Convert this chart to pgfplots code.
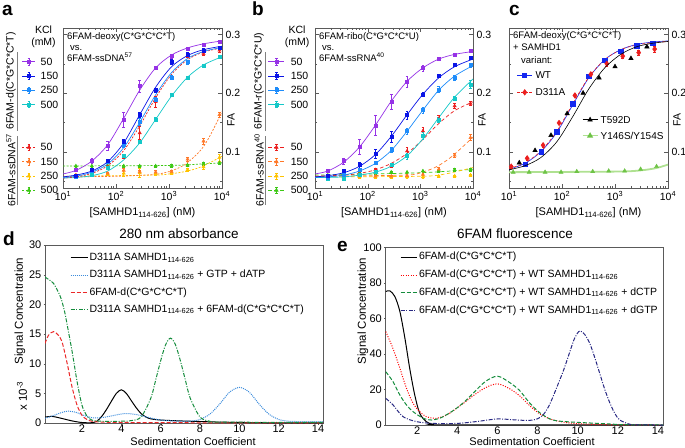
\documentclass[border=0pt]{standalone}
\usepackage{fontspec}
\setmainfont{Liberation Sans}
\usepackage{pgfplots}
\pgfplotsset{compat=1.18}
\definecolor{cPur}{RGB}{150,50,230}
\definecolor{cBlu}{RGB}{10,20,230}
\definecolor{cLbl}{RGB}{30,140,250}
\definecolor{cCya}{RGB}{20,200,200}
\definecolor{cRed}{RGB}{235,30,30}
\definecolor{cOra}{RGB}{255,120,40}
\definecolor{cYel}{RGB}{255,195,0}
\definecolor{cGrn}{RGB}{60,200,20}
\definecolor{cWT}{RGB}{20,40,240}
\definecolor{cY146}{RGB}{110,195,70}
\definecolor{cY146L}{RGB}{175,225,145}
\definecolor{dBlue}{RGB}{60,140,220}
\definecolor{dRed}{RGB}{235,40,40}
\definecolor{dGreen}{RGB}{20,140,60}
\definecolor{eNavy}{RGB}{40,40,130}
\definecolor{frame}{RGB}{90,90,90}
\pgfplotsset{
 errpts/.style={only marks, error bars/y dir=both, error bars/y explicit,
  error bars/error bar style={line width=0.5pt},
  error bars/error mark options={rotate=90, mark size=1.3pt, line width=0.5pt}},
 fitline/.style={smooth, no marks, line width=0.7pt},
 dline/.style={smooth, no marks, line width=1pt}
}
\begin{document}
\begin{tikzpicture}
%================ panel a
\begin{axis}[scale only axis, width=159pt, height=160pt, anchor=north west, at={(63pt,-28pt)},
  xmode=log, xmin=10, xmax=10000, ymin=0.038, ymax=0.311,
  xtick={10,100,1000,10000},
  xticklabels={10\textsuperscript{1},10\textsuperscript{2},10\textsuperscript{3},10\textsuperscript{4}},
  minor xtick={20,30,40,50,60,70,80,90,200,300,400,500,600,700,800,900,2000,3000,4000,5000,6000,7000,8000,9000},
  ytick={0.1,0.2,0.3}, yticklabels={0.1,0.2,0.3}, minor ytick={0.05,0.15,0.25},
  ytick pos=both, yticklabel pos=right,
  tick align=inside, major tick length=4pt, minor tick length=2pt,
  axis line style={frame}, tick style={frame},
  font=\fontsize{10.5}{12}\selectfont,
  xlabel={{[}SAMHD1\textsubscript{114-626}{]} (nM)},
  xlabel style={font=\fontsize{11}{12}\selectfont},
  legend cell align=left,
  legend style={at={(axis description cs:-0.258,0.821)}, anchor=north west, draw=none, fill=none,
  inner sep=0pt, outer sep=0pt, row sep=4.3pt, column sep=5pt,
  nodes={inner sep=0pt, text height=8.5pt, text depth=1.5pt}},
 legend image code/.code={\draw[#1,solid,mark=none,line width=0.5pt] (6.5pt,-3.2pt) -- (6.5pt,3.2pt) (5.2pt,-3.2pt) -- (7.8pt,-3.2pt) (5.2pt,3.2pt) -- (7.8pt,3.2pt);
  \draw[mark repeat=2,mark phase=2,#1] plot coordinates {(0pt,0pt) (6.5pt,0pt) (13pt,0pt)};}]
\addlegendimage{cPur, line width=0.7pt, mark=square*, mark size=1.5pt}\addlegendentry{50}
\addlegendimage{cBlu, line width=0.7pt, mark=square*, mark size=1.5pt}\addlegendentry{150}
\addlegendimage{cLbl, line width=0.7pt, mark=square*, mark size=1.5pt}\addlegendentry{250}
\addlegendimage{cCya, line width=0.7pt, mark=square*, mark size=1.5pt}\addlegendentry{500}
\addlegendimage{empty legend}\addlegendentry{\mbox{}}
\addlegendimage{empty legend}\addlegendentry{\mbox{}}
\addlegendimage{cRed, line width=0.7pt, dash pattern=on 2pt off 1.5pt, mark=triangle*, mark size=1.9pt, mark options={solid}}\addlegendentry{50}
\addlegendimage{cOra, line width=0.7pt, dash pattern=on 2pt off 1.5pt, mark=triangle*, mark size=1.9pt, mark options={solid}}\addlegendentry{150}
\addlegendimage{cYel, line width=0.7pt, dash pattern=on 2pt off 1.5pt, mark=triangle*, mark size=1.9pt, mark options={solid}}\addlegendentry{250}
\addlegendimage{cGrn, line width=0.7pt, dash pattern=on 2pt off 1.5pt, mark=triangle*, mark size=1.9pt, mark options={solid}}\addlegendentry{500}
\addplot[fitline, cGrn, dash pattern=on 2pt off 1.5pt] coordinates {(10,0.0756)(1000,0.0765)(4000,0.079)(10000,0.081)};
\addplot[fitline, cYel, dash pattern=on 2pt off 1.5pt] coordinates {(10,0.058)(500,0.060)(1000,0.062)(2000,0.066)(4000,0.074)(10000,0.092)};
\addplot[fitline, cOra, dash pattern=on 2pt off 1.5pt] coordinates {(10,0.057)(100,0.058)(500,0.061)(1000,0.066)(2000,0.078)(4000,0.103)(6000,0.128)(10000,0.168)};
\addplot[fitline, cCya] coordinates {(10,0.055)(17.5,0.056)(35,0.059)(70,0.067)(140,0.086)(280,0.115)(560,0.155)(1120,0.195)(2240,0.227)(4480,0.248)(10000,0.262)};
\addplot[fitline, cRed, dash pattern=on 2pt off 1.5pt] coordinates {(10,0.055)(17.5,0.057)(35,0.063)(70,0.076)(140,0.102)(280,0.144)(560,0.192)(1120,0.232)(2240,0.257)(4480,0.270)(10000,0.277)};
\addplot[fitline, cLbl] coordinates {(10,0.056)(17.5,0.058)(35,0.065)(70,0.079)(140,0.107)(280,0.150)(560,0.197)(1120,0.235)(2240,0.259)(4480,0.271)(10000,0.278)};
\addplot[fitline, cBlu] coordinates {(10,0.057)(17.5,0.060)(35,0.067)(70,0.083)(140,0.115)(280,0.163)(560,0.210)(1120,0.245)(2240,0.264)(4480,0.274)(10000,0.280)};
\addplot[fitline, cPur] coordinates {(10,0.062)(17.5,0.068)(35,0.084)(70,0.112)(140,0.157)(280,0.205)(560,0.243)(1120,0.265)(2240,0.277)(4480,0.284)(10000,0.289)};
\addplot[cGrn, mark=triangle*, mark size=1.9pt, errpts] table[x index=0,y index=1,y error index=2]{
17.5 0.0756 0.002
35 0.0756 0.002
70 0.0756 0.002
140 0.0756 0.002
280 0.0756 0.002
560 0.0756 0.002
1120 0.0760 0.002
2240 0.0770 0.002
4480 0.0795 0.002
8960 0.0810 0.002
};
\addplot[cYel, mark=triangle*, mark size=1.9pt, errpts] table[x index=0,y index=1,y error index=2]{
17.5 0.060 0.002
35 0.061 0.002
70 0.061 0.002
140 0.063 0.005
280 0.064 0.008
560 0.062 0.002
1120 0.063 0.002
2240 0.069 0.002
4480 0.074 0.004
8960 0.090 0.006
};
\addplot[cOra, mark=triangle*, mark size=1.9pt, errpts] table[x index=0,y index=1,y error index=2]{
17.5 0.060 0.002
35 0.060 0.002
70 0.063 0.002
140 0.068 0.004
280 0.066 0.003
560 0.065 0.003
1120 0.066 0.002
2240 0.087 0.003
4480 0.118 0.005
8960 0.163 0.004
};
\addplot[cRed, mark=triangle*, mark size=1.9pt, errpts] table[x index=0,y index=1,y error index=2]{
17.5 0.057 0.002
35 0.061 0.002
70 0.074 0.003
140 0.091 0.003
280 0.132 0.011
560 0.185 0.010
1120 0.253 0.004
2240 0.264 0.003
4480 0.267 0.003
8960 0.273 0.003
};
\addplot[cCya, mark=square*, mark size=1.5pt, errpts] table[x index=0,y index=1,y error index=2]{
17.5 0.057 0.002
35 0.061 0.002
70 0.073 0.002
140 0.093 0.003
280 0.117 0.003
560 0.155 0.003
1120 0.197 0.003
2240 0.226 0.003
4480 0.246 0.002
8960 0.262 0.002
};
\addplot[cLbl, mark=square*, mark size=1.5pt, errpts] table[x index=0,y index=1,y error index=2]{
17.5 0.058 0.002
35 0.067 0.002
70 0.083 0.003
140 0.112 0.004
280 0.151 0.006
560 0.189 0.004
1120 0.227 0.004
2240 0.253 0.003
4480 0.272 0.003
8960 0.278 0.002
};
\addplot[cBlu, mark=square*, mark size=1.5pt, errpts] table[x index=0,y index=1,y error index=2]{
17.5 0.059 0.002
35 0.069 0.002
70 0.084 0.003
140 0.117 0.005
280 0.163 0.005
560 0.205 0.004
1120 0.253 0.004
2240 0.266 0.003
4480 0.273 0.003
8960 0.278 0.002
};
\addplot[cPur, mark=square*, mark size=1.5pt, errpts] table[x index=0,y index=1,y error index=2]{
17.5 0.069 0.003
35 0.085 0.004
70 0.110 0.007
140 0.155 0.013
280 0.212 0.010
560 0.243 0.003
1120 0.263 0.004
2240 0.276 0.002
4480 0.282 0.002
8960 0.288 0.002
};
\end{axis}
%================ panel b
\begin{axis}[scale only axis, width=158pt, height=160pt, anchor=north west, at={(315pt,-28pt)},
  xmode=log, xmin=10, xmax=10000, ymin=0.038, ymax=0.311,
  xtick={10,100,1000,10000},
  xticklabels={10\textsuperscript{1},10\textsuperscript{2},10\textsuperscript{3},10\textsuperscript{4}},
  minor xtick={20,30,40,50,60,70,80,90,200,300,400,500,600,700,800,900,2000,3000,4000,5000,6000,7000,8000,9000},
  ytick={0.1,0.2,0.3}, yticklabels={0.1,0.2,0.3}, minor ytick={0.05,0.15,0.25},
  ytick pos=both, yticklabel pos=right,
  tick align=inside, major tick length=4pt, minor tick length=2pt,
  axis line style={frame}, tick style={frame},
  font=\fontsize{10.5}{12}\selectfont,
  xlabel={{[}SAMHD1\textsubscript{114-626}{]} (nM)},
  xlabel style={font=\fontsize{11}{12}\selectfont},
  legend cell align=left,
  legend style={at={(axis description cs:-0.297,0.821)}, anchor=north west, draw=none, fill=none,
  inner sep=0pt, outer sep=0pt, row sep=4.3pt, column sep=6pt,
  nodes={inner sep=0pt, text height=8.5pt, text depth=1.5pt}},
 legend image code/.code={\draw[#1,solid,mark=none,line width=0.5pt] (8pt,-3.2pt) -- (8pt,3.2pt) (6.7pt,-3.2pt) -- (9.3pt,-3.2pt) (6.7pt,3.2pt) -- (9.3pt,3.2pt);
  \draw[mark repeat=2,mark phase=2,#1] plot coordinates {(0pt,0pt) (8pt,0pt) (16pt,0pt)};}]
\addlegendimage{cPur, line width=0.7pt, mark=square*, mark size=1.5pt}\addlegendentry{50}
\addlegendimage{cBlu, line width=0.7pt, mark=square*, mark size=1.5pt}\addlegendentry{150}
\addlegendimage{cLbl, line width=0.7pt, mark=square*, mark size=1.5pt}\addlegendentry{250}
\addlegendimage{cCya, line width=0.7pt, mark=square*, mark size=1.5pt}\addlegendentry{500}
\addlegendimage{empty legend}\addlegendentry{\mbox{}}
\addlegendimage{empty legend}\addlegendentry{\mbox{}}
\addlegendimage{cRed, line width=0.7pt, dash pattern=on 3.5pt off 2.5pt, mark=triangle*, mark size=1.9pt, mark options={solid}}\addlegendentry{50}
\addlegendimage{cOra, line width=0.7pt, dash pattern=on 3.5pt off 2.5pt, mark=triangle*, mark size=1.9pt, mark options={solid}}\addlegendentry{150}
\addlegendimage{cYel, line width=0.7pt, dash pattern=on 3.5pt off 2.5pt, mark=triangle*, mark size=1.9pt, mark options={solid}}\addlegendentry{250}
\addlegendimage{cGrn, line width=0.7pt, dash pattern=on 3.5pt off 2.5pt, mark=triangle*, mark size=1.9pt, mark options={solid}}\addlegendentry{500}
\addplot[fitline, cGrn, dash pattern=on 3.5pt off 2.5pt] coordinates {(10,0.060)(1000,0.064)(10000,0.070)};
\addplot[fitline, cYel, dash pattern=on 3.5pt off 2.5pt] coordinates {(10,0.057)(1000,0.058)(3000,0.062)(10000,0.073)};
\addplot[fitline, cOra, dash pattern=on 3.5pt off 2.5pt] coordinates {(10,0.058)(500,0.060)(1000,0.064)(2000,0.074)(4000,0.092)(10000,0.125)};
\addplot[fitline, cRed, dash pattern=on 3.5pt off 2.5pt] coordinates {(10,0.058)(35,0.060)(70,0.063)(140,0.069)(280,0.080)(560,0.097)(1120,0.121)(2240,0.148)(4480,0.170)(10000,0.185)};
\addplot[fitline, cCya] coordinates {(10,0.056)(17.5,0.056)(35,0.057)(70,0.060)(140,0.065)(280,0.075)(560,0.093)(1120,0.122)(2240,0.158)(4480,0.193)(10000,0.224)};
\addplot[fitline, cLbl] coordinates {(10,0.056)(17.5,0.057)(35,0.060)(70,0.067)(140,0.080)(280,0.102)(560,0.135)(1120,0.171)(2240,0.205)(4480,0.229)(10000,0.247)};
\addplot[fitline, cBlu] coordinates {(10,0.057)(17.5,0.059)(35,0.064)(70,0.075)(140,0.095)(280,0.126)(560,0.163)(1120,0.198)(2240,0.226)(4480,0.245)(10000,0.258)};
\addplot[fitline, cPur] coordinates {(10,0.062)(17.5,0.067)(35,0.082)(70,0.108)(140,0.145)(280,0.186)(560,0.220)(1120,0.243)(2240,0.258)(4480,0.266)(10000,0.271)};
\addplot[cGrn, mark=triangle*, mark size=1.9pt, errpts] table[x index=0,y index=1,y error index=2]{
17.5 0.060 0.002
35 0.062 0.002
70 0.063 0.002
140 0.064 0.002
280 0.065 0.002
560 0.065 0.002
1120 0.067 0.002
2240 0.067 0.002
4480 0.069 0.002
8960 0.069 0.002
};
\addplot[cYel, mark=triangle*, mark size=1.9pt, errpts] table[x index=0,y index=1,y error index=2]{
17.5 0.057 0.002
35 0.057 0.002
70 0.057 0.002
140 0.057 0.002
280 0.057 0.002
560 0.057 0.002
1120 0.057 0.002
2240 0.058 0.002
4480 0.0585 0.002
8960 0.060 0.002
};
\addplot[cOra, mark=triangle*, mark size=1.9pt, errpts] table[x index=0,y index=1,y error index=2]{
17.5 0.057 0.002
35 0.057 0.002
70 0.058 0.002
140 0.058 0.002
280 0.058 0.002
560 0.059 0.002
1120 0.061 0.002
2240 0.070 0.003
4480 0.0938 0.004
8960 0.1239 0.005
};
\addplot[cRed, mark=triangle*, mark size=1.9pt, errpts] table[x index=0,y index=1,y error index=2]{
17.5 0.0585 0.002
35 0.0614 0.002
70 0.067 0.002
140 0.069 0.002
280 0.0767 0.004
560 0.101 0.006
1120 0.1352 0.007
2240 0.1563 0.006
4480 0.178 0.004
8960 0.1824 0.003
};
\addplot[cCya, mark=square*, mark size=1.5pt, errpts] table[x index=0,y index=1,y error index=2]{
17.5 0.0545 0.002
35 0.0545 0.003
70 0.0614 0.002
140 0.066 0.003
280 0.078 0.003
560 0.0926 0.005
1120 0.1267 0.006
2240 0.155 0.004
4480 0.191 0.004
8960 0.2148 0.007
};
\addplot[cLbl, mark=square*, mark size=1.5pt, errpts] table[x index=0,y index=1,y error index=2]{
17.5 0.0557 0.002
35 0.0614 0.002
70 0.0688 0.003
140 0.0813 0.003
280 0.103 0.004
560 0.135 0.005
1120 0.171 0.005
2240 0.206 0.005
4480 0.226 0.004
8960 0.2477 0.004
};
\addplot[cBlu, mark=square*, mark size=1.5pt, errpts] table[x index=0,y index=1,y error index=2]{
17.5 0.0585 0.002
35 0.067 0.003
70 0.0773 0.005
140 0.0966 0.008
280 0.125 0.009
560 0.1625 0.007
1120 0.1977 0.003
2240 0.229 0.002
4480 0.249 0.002
8960 0.260 0.003
};
\addplot[cPur, mark=square*, mark size=1.5pt, errpts] table[x index=0,y index=1,y error index=2]{
17.5 0.067 0.002
35 0.084 0.005
70 0.1085 0.013
140 0.145 0.017
280 0.185 0.013
560 0.219 0.009
1120 0.243 0.005
2240 0.2585 0.002
4480 0.266 0.002
8960 0.2727 0.002
};
\end{axis}
%================ panel c (WT, D311A)
\begin{axis}[scale only axis, width=159pt, height=160pt, anchor=north west, at={(509pt,-28pt)},
  xmode=log, xmin=10, xmax=10000, ymin=0.038, ymax=0.311,
  xtick={10,100,1000,10000},
  xticklabels={10\textsuperscript{1},10\textsuperscript{2},10\textsuperscript{3},10\textsuperscript{4}},
  minor xtick={20,30,40,50,60,70,80,90,200,300,400,500,600,700,800,900,2000,3000,4000,5000,6000,7000,8000,9000},
  ytick={0.1,0.2,0.3}, yticklabels={0.1,0.2,0.3}, minor ytick={0.05,0.15,0.25},
  ytick pos=both, yticklabel pos=right,
  tick align=inside, major tick length=4pt, minor tick length=2pt,
  axis line style={frame}, tick style={frame},
  font=\fontsize{10.5}{12}\selectfont,
  xlabel={{[}SAMHD1\textsubscript{114-626}{]} (nM)},
  xlabel style={font=\fontsize{11}{12}\selectfont},
  legend cell align=left,
  legend style={at={(axis description cs:0.050,0.737)}, anchor=north west, draw=none, fill=none,
  inner sep=0pt, outer sep=0pt, row sep=8pt, column sep=3pt, font=\fontsize{10}{12}\selectfont,
  nodes={inner sep=0pt, text height=8pt, text depth=1.5pt}},
 legend image code/.code={\draw[mark repeat=2,mark phase=2,#1] plot coordinates {(0pt,0pt) (7.5pt,0pt) (15pt,0pt)};}]
\addlegendimage{cWT, line width=0.6pt, mark=square*, mark size=2pt}\addlegendentry{WT}
\addlegendimage{cRed, line width=0.6pt, dash pattern=on 2.5pt off 1.5pt, mark=diamond*, mark size=2.7pt, mark options={solid}}\addlegendentry{D311A}
\addplot[fitline, cWT, line width=0.6pt] coordinates {(10,0.070)(20,0.080)(40,0.100)(80,0.133)(160,0.180)(320,0.226)(640,0.257)(1280,0.274)(2560,0.283)(5120,0.287)(10000,0.289)};
\addplot[fitline, cRed, line width=0.6pt, dash pattern=on 3pt off 2pt] coordinates {(10,0.071)(20,0.081)(40,0.101)(80,0.135)(160,0.182)(320,0.227)(640,0.257)(1280,0.274)(2560,0.282)(5120,0.286)(10000,0.288)};
\addplot[cWT, mark=square*, mark size=2.2pt, only marks] table[x index=0,y index=1]{
20 0.079
40 0.100
80 0.134
160 0.182
320 0.2285
640 0.256
1280 0.271
2560 0.281
5120 0.285
};
\addplot[cRed, mark=diamond*, mark size=2.8pt, errpts] table[x index=0,y index=1,y error index=2]{
11 0.0746 0.003
22 0.0887 0.003
44 0.111 0.003
88 0.149 0.003
175 0.196 0.004
350 0.232 0.004
700 0.250 0.004
1400 0.263 0.004
2800 0.269 0.004
5600 0.275 0.005
};
\end{axis}
%================ panel c (T592D, Y146S/Y154S)
\begin{axis}[scale only axis, width=159pt, height=160pt, anchor=north west, at={(509pt,-28pt)},
  xmode=log, xmin=10, xmax=10000, ymin=0.038, ymax=0.311, hide axis,
  font=\fontsize{10.5}{12}\selectfont,
  legend cell align=left,
  legend style={at={(axis description cs:0.459,0.456)}, anchor=north west, draw=none, fill=none,
  inner sep=0pt, outer sep=0pt, row sep=6.5pt, column sep=2.5pt, font=\fontsize{10}{12}\selectfont,
  nodes={inner sep=0pt, text height=8pt, text depth=1.5pt}},
 legend image code/.code={\draw[mark repeat=2,mark phase=2,#1] plot coordinates {(0pt,0pt) (7.5pt,0pt) (15pt,0pt)};}]
\addlegendimage{black, line width=0.6pt, mark=triangle*, mark size=2.5pt}\addlegendentry{T592D}
\addlegendimage{cY146L, line width=1.2pt, mark=triangle*, mark size=2.4pt, mark options={cY146}}\addlegendentry{Y146S/Y154S}
\addplot[fitline, cY146L, line width=1.8pt] coordinates {(10,0.065)(1000,0.066)(3000,0.068)(6000,0.072)(10000,0.078)};
\addplot[fitline, black, line width=0.6pt] coordinates {(10,0.069)(20,0.076)(40,0.090)(80,0.117)(160,0.160)(320,0.207)(640,0.243)(1280,0.266)(2560,0.279)(5120,0.285)(10000,0.288)};
\addplot[cY146, mark=triangle*, mark size=2.4pt, only marks] table[x index=0,y index=1]{
12 0.065
24 0.065
48 0.065
96 0.065
190 0.066
380 0.066
760 0.067
1520 0.067
3040 0.070
6080 0.0746
};
\addplot[black, mark=triangle*, mark size=2.6pt, only marks] table[x index=0,y index=1]{
15.6 0.081
31 0.102
62 0.128
125 0.165
250 0.200
500 0.226
1000 0.245
2000 0.259
4000 0.279
};
\end{axis}
%================ panel d
\begin{axis}[scale only axis, width=278pt, height=178pt, anchor=north west, at={(45pt,-245pt)},
  xmin=0.12, xmax=14.25, ymin=0, ymax=30, xtick={2,4,...,14}, ytick={0,5,...,30},
  tick pos=left, tick align=outside, major tick length=1.5pt,
  axis line style={frame}, tick style={frame},
  xticklabel style={inner sep=0.5pt}, yticklabel style={inner sep=2pt},
  font=\fontsize{11}{12}\selectfont, /pgf/number format/assume math mode=true,
  legend cell align=left,
  legend style={at={(axis description cs:0.09,0.961)}, anchor=north west, draw=none, fill=none,
  inner sep=0pt, outer sep=0pt, row sep=5.3pt, column sep=1.5pt,
  nodes={inner sep=0pt, text height=8.5pt, text depth=3.5pt}, font=\fontsize{10.5}{12}\selectfont},
  legend image code/.code={\draw[#1] (0pt,0pt) -- (17pt,0pt);}]
\addplot[dline, black] coordinates {(0.12,1.0)(0.5,1.1)(1.0,0.75)(1.5,0.35)(2.0,0.08)(2.5,0.05)(2.75,0.3)(3.0,1.1)(3.25,2.3)(3.5,3.7)(3.75,5.0)(4.0,5.6)(4.25,5.0)(4.5,3.8)(4.75,2.6)(5.0,1.6)(5.25,1.0)(5.5,0.7)(6.0,0.5)(7.0,0.35)(8.0,0.25)(9.0,0.15)(10.0,0.1)(11,0.05)(12,0.02)(14.25,0.02)};
\addlegendentry{D311A SAMHD1\textsubscript{114-626}}
\addplot[dline, dBlue, dash pattern=on 1pt off 1pt] coordinates {(0.12,0.8)(0.5,1.2)(1.0,1.8)(1.3,2.0)(1.7,1.8)(2.0,1.4)(2.5,0.9)(3.0,0.9)(3.5,1.2)(4.2,1.6)(4.8,1.4)(5.3,1.0)(6.0,0.5)(7.0,0.3)(7.6,0.35)(8.0,0.6)(8.5,1.5)(9.0,3.2)(9.5,5.2)(10.0,6.0)(10.5,5.2)(11.0,3.2)(11.5,1.5)(12.0,0.6)(12.5,0.3)(13,0.25)(14.25,0.25)};
\addlegendentry{D311A SAMHD1\textsubscript{114-626} + GTP + dATP}
\addplot[dline, dRed, dash pattern=on 4pt off 2pt] coordinates {(0.12,13.4)(0.3,14.8)(0.55,15.4)(0.8,14.8)(1.0,13.5)(1.25,10.0)(1.5,6.0)(1.75,3.0)(2.0,1.3)(2.25,0.6)(2.5,0.3)(3.0,0.15)(4.0,0.1)(6,0.05)(14.25,0.02)};
\addlegendentry{6FAM-d(C*G*C*C*T)}
\addplot[dline, dGreen, dash pattern=on 4pt off 1.5pt on 1pt off 1.5pt] coordinates {(0.12,24.6)(0.3,24.2)(0.56,23.5)(0.9,21.3)(1.1,19.0)(1.25,16.5)(1.5,12.0)(1.75,7.0)(2.0,3.0)(2.25,1.2)(2.5,0.5)(3.0,0.3)(4.0,0.3)(4.5,0.4)(5.0,1.0)(5.5,4.2)(5.75,7.3)(6.0,10.5)(6.25,13.2)(6.5,14.3)(6.75,13.2)(7.0,10.5)(7.25,7.3)(7.5,4.2)(8.0,1.0)(8.5,0.3)(9,0.15)(14.25,0.1)};
\addlegendentry{D311A SAMHD1\textsubscript{114-626} + 6FAM-d(C*G*C*C*T)}
\end{axis}
%================ panel e
\begin{axis}[scale only axis, width=278pt, height=177.5pt, anchor=north west, at={(385pt,-247.5pt)},
  xmin=0.4, xmax=14.25, ymin=0, ymax=100, xtick={2,4,...,14}, ytick={0,20,...,100},
  tick pos=left, tick align=outside, major tick length=1pt,
  axis line style={frame}, tick style={frame},
  xticklabel style={inner sep=0.3pt}, yticklabel style={inner sep=2pt},
  font=\fontsize{11}{12}\selectfont, /pgf/number format/assume math mode=true,
  legend cell align=left,
  legend style={at={(axis description cs:0.054,0.978)}, anchor=north west, draw=none, fill=none,
  inner sep=0pt, outer sep=0pt, row sep=5.7pt, column sep=2pt,
  nodes={inner sep=0pt, text height=8.5pt, text depth=3.5pt}, font=\fontsize{10.5}{12}\selectfont},
  legend image code/.code={\draw[#1] (0pt,0pt) -- (16pt,0pt);}]
\addplot[dline, black] coordinates {(0.44,75.2)(0.64,75.6)(0.89,72.4)(1.14,64)(1.39,49)(1.63,32)(1.88,17)(2.13,6.6)(2.46,1.9)(2.8,0.4)(3.5,0.1)(14.25,0)};
\addlegendentry{6FAM-d(C*G*C*C*T)}
\addplot[dline, red, dash pattern=on 1pt off 1.5pt] coordinates {(0.44,52.6)(0.8,43)(1.14,32)(1.47,20.7)(1.8,12.2)(2.13,7.5)(2.46,4.7)(2.96,3.8)(3.5,5.8)(3.96,9.4)(4.4,13)(4.79,16.5)(5.4,21)(6.0,23.2)(6.6,20.5)(7.1,16.5)(7.6,11)(8.1,6.3)(8.6,3.5)(9.0,2.2)(9.8,0.9)(11,0.3)(12,0.05)(14.25,0)};
\addlegendentry{6FAM-d(C*G*C*C*T) + WT SAMHD1\textsubscript{114-626}}
\addplot[dline, dGreen, dash pattern=on 4pt off 2pt] coordinates {(0.44,30)(0.8,24.4)(1.14,16.9)(1.47,11.3)(1.8,7.5)(2.3,3.8)(2.7,2.8)(3.13,3.8)(3.5,6.0)(3.96,9.4)(4.4,13.5)(4.79,17.9)(5.4,24.5)(6.0,27.5)(6.6,24)(7.1,19.5)(7.6,12.5)(8.1,7)(8.6,3.5)(9.0,2.3)(9.8,1.6)(10.5,1.2)(11.4,0.7)(12.3,0.2)(14.25,0)};
\addlegendentry{6FAM-d(C*G*C*C*T) + WT SAMHD1\textsubscript{114-626} + dCTP}
\addplot[dline, eNavy, dash pattern=on 4pt off 1.5pt on 1pt off 1.5pt] coordinates {(0.44,15)(0.8,11.3)(1.3,4.7)(1.97,1.9)(2.8,0.9)(4,0.9)(5,2)(6,3.4)(7,2.8)(7.6,2.6)(8.0,3.5)(8.3,6)(8.6,11.5)(8.94,20.7)(9.3,31)(9.6,41)(9.85,49)(10.1,53)(10.35,51)(10.6,46)(10.85,38)(11.1,29)(11.35,20)(11.6,12.5)(11.85,6.5)(12.1,2.8)(12.6,0.4)(13,0.05)(14.25,0)};
\addlegendentry{6FAM-d(C*G*C*C*T) + WT SAMHD1\textsubscript{114-626} + dGTP}
\end{axis}
%================ texts
\tikzset{lab/.style={font=\fontsize{19}{19}\bfseries\selectfont, anchor=base west, inner sep=0pt}}
\tikzset{t105/.style={font=\fontsize{10.5}{12}\selectfont, inner sep=0pt}}
\node[lab] at (2pt,-15pt) {a};
\node[lab] at (252pt,-16pt) {b};
\node[lab] at (509pt,-15pt) {c};
\node[lab] at (3pt,-245pt) {d};
\node[lab] at (337pt,-251pt) {e};
\node[t105] at (43.5pt,-30pt) {KCl};
\node[t105] at (43.5pt,-43pt) {(mM)};
\node[t105, rotate=90] at (11pt,-81pt) {6FAM-d(C*G*C*C*T)};
\node[t105, rotate=90] at (11pt,-170pt) {6FAM-ssDNA\textsuperscript{57}};
\draw[gray, line width=0.7pt] (17.5pt,-52pt) -- (17.5pt,-131pt);
\draw[gray, line width=0.7pt] (17.5pt,-136pt) -- (17.5pt,-205pt);
\node[anchor=north west, align=left, font=\fontsize{9.5}{11}\selectfont, inner sep=0pt] at (67pt,-32pt) {6FAM-deoxy(C*G*C*C*T)\\\hspace{3pt}vs.\\6FAM-ssDNA\textsuperscript{57}};
\node[t105, rotate=90] at (231pt,-120pt) {FA};
\node[t105] at (297pt,-30pt) {KCl};
\node[t105] at (297pt,-43pt) {(mM)};
\node[t105, rotate=90] at (259pt,-81pt) {6FAM-r(C*G*C*C*U)};
\node[t105, rotate=90] at (259pt,-170pt) {6FAM-ssRNA\textsuperscript{40}};
\draw[gray, line width=0.7pt] (265.5pt,-52pt) -- (265.5pt,-131pt);
\draw[gray, line width=0.7pt] (265.5pt,-136pt) -- (265.5pt,-205pt);
\node[anchor=north west, align=left, font=\fontsize{9.5}{11}\selectfont, inner sep=0pt] at (319pt,-32pt) {6FAM-ribo(C*G*C*C*U)\\\hspace{3pt}vs.\\6FAM-ssRNA\textsuperscript{40}};
\node[t105, rotate=90] at (482pt,-120pt) {FA};
\node[anchor=north west, align=left, font=\fontsize{9.5}{12.5}\selectfont, inner sep=0pt] at (513pt,-31pt) {6FAM-deoxy(C*G*C*C*T)\\+ SAMHD1\\\hspace{8pt}variant:};
\node[t105, rotate=90] at (677pt,-120pt) {FA};
\node[font=\fontsize{13.5}{15}\selectfont, inner sep=0pt] at (179pt,-234pt) {280 nm absorbance};
\node[font=\fontsize{13.5}{15}\selectfont, inner sep=0pt] at (515pt,-234pt) {6FAM fluorescence};
\node[font=\fontsize{11.5}{13}\selectfont, rotate=90, inner sep=0pt] at (20pt,-311pt) {Signal Concentration};
\node[font=\fontsize{11.5}{13}\selectfont, rotate=90, inner sep=0pt] at (22pt,-396pt) {x 10\textsuperscript{-3}};
\node[font=\fontsize{11.5}{13}\selectfont, rotate=90, inner sep=0pt] at (363pt,-311pt) {Signal Concentration};
\node[font=\fontsize{11}{12}\selectfont, inner sep=0pt, anchor=base] at (193pt,-445.3pt) {Sedimentation Coefficient};
\node[font=\fontsize{11}{12}\selectfont, inner sep=0pt, anchor=base] at (532pt,-445.8pt) {Sedimentation Coefficient};
\pgfresetboundingbox
\path (0pt,0pt) rectangle (685pt,-447pt);
\end{tikzpicture}
\end{document}
